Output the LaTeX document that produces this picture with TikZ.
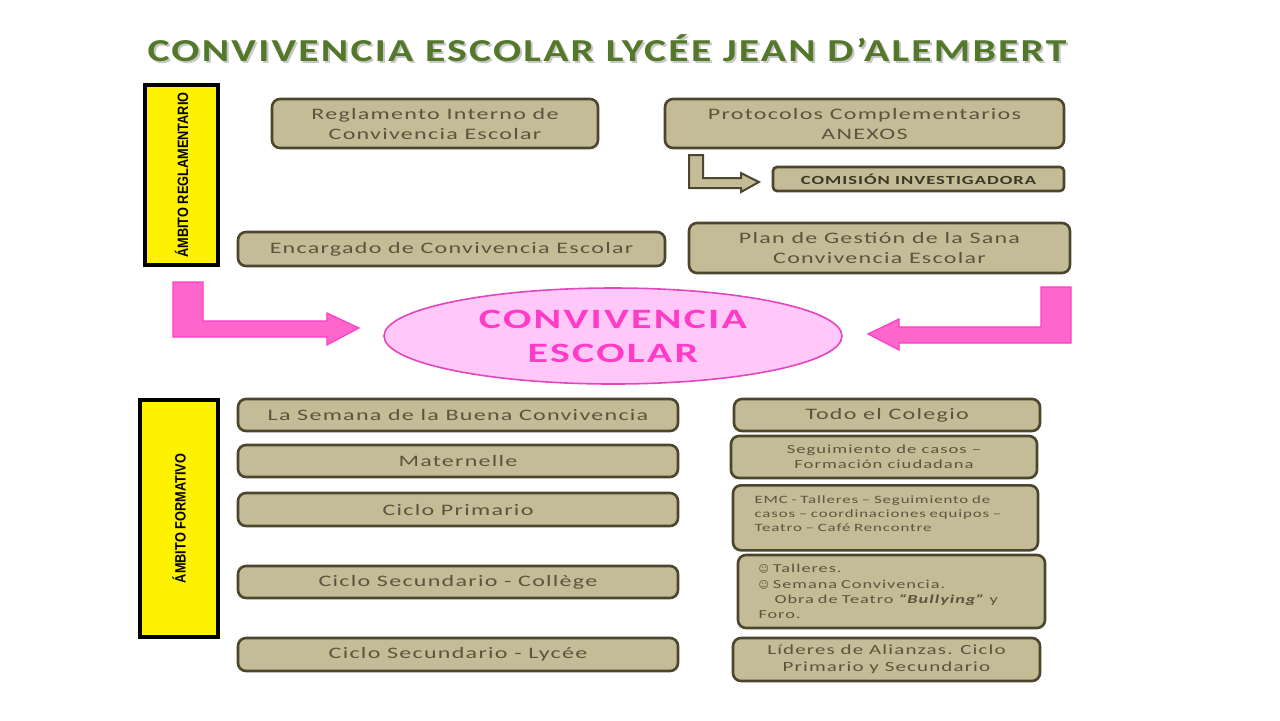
\documentclass[tikz,border=0pt]{standalone}
\usepackage{fontspec}
\setmainfont{Carlito}[FakeStretch=1.5,LetterSpace=8]
\newfontfamily\titlefont{Carlito}[FakeStretch=1.3,LetterSpace=7]
\newfontfamily\narrowsans{Liberation Sans}[FakeStretch=0.85]
\newfontfamily\smileyfont{DejaVu Sans}
\usetikzlibrary{shapes.geometric}

\definecolor{tanfill}{RGB}{196,188,150}
\definecolor{tanline}{RGB}{75,70,45}
\definecolor{tantext}{RGB}{92,84,62}
\definecolor{titlegreen}{RGB}{84,120,42}
\definecolor{pinkfill}{RGB}{255,102,204}
\definecolor{pinkline}{RGB}{255,60,200}
\definecolor{ellfill}{RGB}{255,200,248}
\definecolor{ellline}{RGB}{225,70,190}
\definecolor{elltext}{RGB}{255,60,200}

\tikzset{
  tanbox/.style={draw=tanline,line width=1.3pt,fill=tanfill,rounded corners=4pt,
    text=tantext,align=center,inner sep=2pt,font=\fontsize{8}{10}\selectfont},
  smallbox/.style={tanbox,font=\fontsize{6.2}{7.6}\selectfont},
  ambito/.style={draw=black,line width=2pt,fill=yellow,rotate=90,
    font=\narrowsans\bfseries\fontsize{7.5}{8}\selectfont},
  pinkarrow/.style={fill=pinkfill,draw=pinkline,line width=0.6pt},
}

\begin{document}
\begin{tikzpicture}[x=0.5pt,y=-0.5pt]
  \useasboundingbox (0,0) rectangle (1280,720);

  % title
  \node[text=black!22,font=\titlefont\bfseries\fontsize{16}{19}\selectfont] at (609,50)
    {CONVIVENCIA ESCOLAR LYCÉE JEAN D’ALEMBERT};
  \node[text=titlegreen,font=\titlefont\bfseries\fontsize{16}{19}\selectfont] (title) at (607,48)
    {CONVIVENCIA ESCOLAR LYCÉE JEAN D’ALEMBERT};

  % ambito reglamentario
  \node[ambito,minimum width=90pt,minimum height=36.5pt] (regl) at (181.5,175)
    {ÁMBITO REGLAMENTARIO};
  \node[tanbox,minimum width=163pt,minimum height=24.5pt] (reglam) at (435,123.5)
    {Reglamento Interno de\\Convivencia Escolar};
  \node[tanbox,minimum width=199.5pt,minimum height=24.5pt] (proto) at (864.5,123.5)
    {Protocolos Complementarios\\ANEXOS};
  \node[tanbox,rounded corners=2pt,minimum width=145.5pt,minimum height=12pt,
    text=tanline!80!black,font=\bfseries\fontsize{6.2}{7}\selectfont] (comision) at (918.5,179)
    {COMISIÓN INVESTIGADORA};
  \node[tanbox,minimum width=213.5pt,minimum height=17pt] (encarg) at (451.5,249)
    {Encargado de Convivencia Escolar};
  \node[tanbox,minimum width=190.5pt,minimum height=25pt] (plan) at (879.5,248)
    {Plan de Gestión de la Sana\\Convivencia Escolar};

  % block arrow protocolos -> comision
  \draw[fill=tanfill,draw=tanline,line width=1pt]
    (689,155) -- (703,155) -- (703,178) -- (741,178) -- (741,173) -- (759,182)
    -- (741,192) -- (741,188) -- (689,188) -- cycle;

  % centre
  \node[ellipse,draw=ellline,line width=0.8pt,fill=ellfill,minimum width=229pt,
    minimum height=48pt,text=elltext,align=center,
    font=\bfseries\fontsize{14}{17}\selectfont] (conv) at (613,336)
    {CONVIVENCIA\\ESCOLAR};
  \draw[pinkarrow] (173,282) -- (203,282) -- (203,321) -- (327,321) -- (327,313)
    -- (359,328) -- (327,345) -- (327,337) -- (173,337) -- cycle;
  \draw[pinkarrow] (1071,287) -- (1041,287) -- (1041,327) -- (899,327) -- (899,319)
    -- (868,334) -- (899,350) -- (899,343) -- (1071,343) -- cycle;

  % ambito formativo
  \node[ambito,minimum width=118.5pt,minimum height=39pt] (form) at (179,518.5)
    {ÁMBITO FORMATIVO};
  \node[tanbox,minimum width=220pt,minimum height=16pt] (semana) at (458,415)
    {La Semana de la Buena Convivencia};
  \node[tanbox,minimum width=220pt,minimum height=16pt] (matern) at (458,461)
    {Maternelle};
  \node[tanbox,minimum width=220pt,minimum height=16.5pt] (primario) at (458,509.5)
    {Ciclo Primario};
  \node[tanbox,minimum width=220pt,minimum height=16pt] (college) at (458,582)
    {Ciclo Secundario - Collège};
  \node[tanbox,minimum width=220pt,minimum height=16.5pt] (lycee) at (458,654.5)
    {Ciclo Secundario - Lycée};

  \node[tanbox,minimum width=153pt,minimum height=16pt] (todo) at (887,415)
    {Todo el Colegio};
  \node[smallbox,minimum width=153pt,minimum height=21pt] (segui) at (884,457)
    {Seguimiento de casos –\\Formación ciudadana};
  \node[smallbox,minimum width=152.5pt,minimum height=32.5pt,align=left,
    text width=131pt,anchor=north,inner ysep=3pt,text depth=18pt,
    font=\fontsize{5.6}{7}\selectfont] (emc) at (885.5,484)
    {EMC - Talleres – Seguimiento de\\casos – coordinaciones equipos –\\Teatro – Café Rencontre};
  \node[smallbox,minimum width=153.5pt,minimum height=36.5pt,align=left,
    text width=133pt,font=\fontsize{6.1}{7.7}\selectfont] (tall) at (891.5,591.5)
    {{\smileyfont\fontsize{5}{6}\selectfont ☺} Talleres.\\
     {\smileyfont\fontsize{5}{6}\selectfont ☺} Semana Convivencia.\\
     \hspace*{8pt}Obra de Teatro \textbf{\textit{“Bullying”}} y\\Foro.};
  \node[tanbox,minimum width=153.5pt,minimum height=21.5pt,
    font=\fontsize{7}{8.5}\selectfont] (lider) at (886.5,659.5)
    {Líderes de Alianzas. Ciclo\\Primario y Secundario};
\end{tikzpicture}
\end{document}
